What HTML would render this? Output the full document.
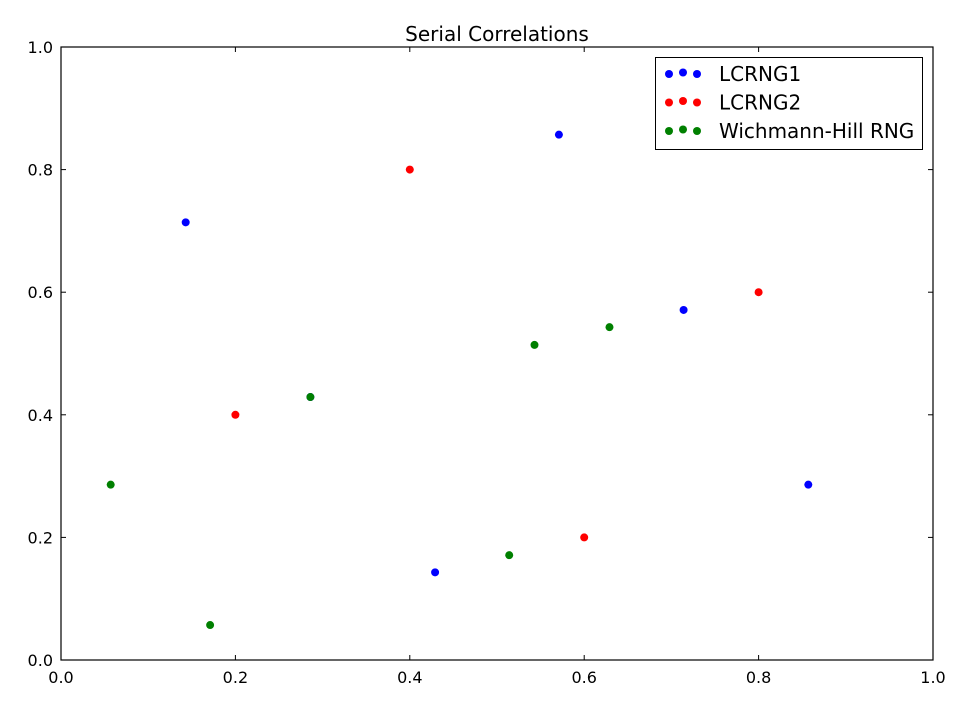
<!DOCTYPE html>
<html><head><meta charset="utf-8"><style>
body{margin:0;background:#fff;}
svg{display:block;font-family:"DejaVu Sans","Liberation Sans",sans-serif;}
</style></head><body>
<svg id="chart" width="971" height="707">
<rect width="971" height="707" fill="#fff"/>
<text x="497" y="41" text-anchor="middle" font-size="20">Serial Correlations</text>
<g id="axes"></g>
<g id="marks"></g>
<rect x="61" y="47" width="872" height="613" fill="none" stroke="#000" stroke-width="1.2"/>
<g>
<rect x="655.5" y="57.5" width="267" height="92" fill="#fff" stroke="#000" stroke-width="1"/>
<g id="legend-items"></g>
</g>
</svg>
<script>
const xTicks=[0.0,0.2,0.4,0.6,0.8,1.0];
const yTicks=[0.0,0.2,0.4,0.6,0.8,1.0];
const seriesNames=["LCRNG1","LCRNG2","Wichmann-Hill RNG"];
const seriesColors=["#0000ff","#ff0000","#008000"];
const lcrng1X=[0.143,0.571,0.714,0.857,0.429,0.286];
const lcrng1Y=[0.714,0.857,0.571,0.286,0.143,0.429];
const lcrng2X=[0.2,0.4,0.8,0.6];
const lcrng2Y=[0.4,0.8,0.6,0.2];
const whX=[0.057,0.171,0.286,0.514,0.543,0.629];
const whY=[0.286,0.057,0.429,0.171,0.514,0.543];
const NS="http://www.w3.org/2000/svg";
const L=61,R=933,T=47,B=660;
const sx=v=>L+v*(R-L), sy=v=>B-v*(B-T);
const axes=document.getElementById('axes');
function mk(tag,attrs,parent){const e=document.createElementNS(NS,tag);for(const k in attrs)e.setAttribute(k,attrs[k]);parent.appendChild(e);return e;}
xTicks.forEach(v=>{
 const x=sx(v);
 const t1=mk('line',{x1:x,x2:x,y1:B,y2:B-5,stroke:'#000'},axes);
 
 
 mk('line',{x1:x,x2:x,y1:T,y2:T+5,stroke:'#000'},axes);
 const tx=mk('text',{x:x,y:B+23,'text-anchor':'middle','font-size':16},axes);
 tx.textContent=v.toFixed(1);
 
 
});
yTicks.forEach(v=>{
 const y=sy(v);
 const t1=mk('line',{x1:L,x2:L+5,y1:y,y2:y,stroke:'#000'},axes);
 
 
 mk('line',{x1:R,x2:R-5,y1:y,y2:y,stroke:'#000'},axes);
 const tx=mk('text',{x:L-8,y:y+6,'text-anchor':'end','font-size':16},axes);
 tx.textContent=v.toFixed(1);
 
 
});
const marks=document.getElementById('marks');
const series=[[lcrng1X,lcrng1Y],[lcrng2X,lcrng2Y],[whX,whY]];
series.forEach((s,i)=>{
 s[0].forEach((xv,j)=>{
  const c=mk('circle',{cx:sx(xv),cy:sy(s[1][j]),r:4,fill:seriesColors[i]},marks);
  
  
 });
});
const li=document.getElementById('legend-items');
seriesNames.forEach((n,i)=>{
 const y=74+i*28.5;
 [669,683,697].forEach((x,k)=>mk('circle',{cx:x,cy:k==1?y-1.5:y,r:4,fill:seriesColors[i]},li));
 const t=mk('text',{x:719,y:y+7,'font-size':20},li);
 t.textContent=n;
 
 
});
</script>
</body></html>
